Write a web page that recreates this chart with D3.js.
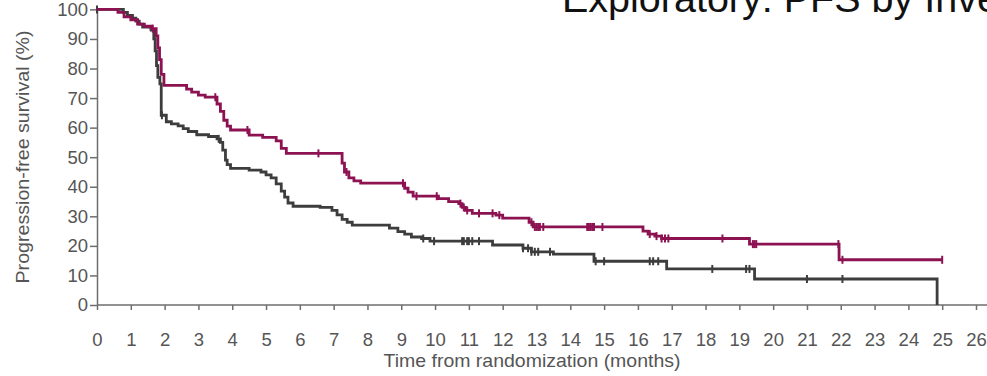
<!DOCTYPE html>
<html>
<head>
<meta charset="utf-8">
<script src="https://cdn.jsdelivr.net/npm/d3@7/dist/d3.min.js"></script>
<style>
  html, body { margin: 0; padding: 0; background: #fff; }
  svg { display: block; font-family: "Liberation Sans", Arial, sans-serif; }
</style>
</head>
<body>
<svg id="chart" width="987" height="376"></svg>
<script>
// ---- Data ----
const titleText = "Exploratory: PFS by Investigator Assessment";
const xAxisTitle = "Time from randomization (months)";
const yAxisTitle = "Progression-free survival (%)";
const xTicks = d3.range(0, 27);
const yTicks = [0, 10, 20, 30, 40, 50, 60, 70, 80, 90, 100];

// Magenta arm: step change points [time (months), survival (%)]
const armAStepTimes  = [0, 0.62, 0.8, 1.0, 1.2, 1.4, 1.6, 1.75, 1.8, 1.85, 1.9, 1.98, 2.65, 2.8, 3.0, 3.2, 3.55, 3.65, 3.75, 3.85, 3.95, 4.5, 4.9, 5.3, 5.45, 5.6, 7.25, 7.32, 7.45, 7.6, 7.8, 9.1, 9.2, 9.35, 10.1, 10.4, 10.7, 10.8, 10.9, 11.1, 11.8, 12.0, 12.78, 12.9, 16.15, 16.3, 16.5, 16.7, 19.3, 21.95, 25.0];
const armAStepValues = [100, 99, 97.5, 96.5, 95, 94.3, 93.5, 91, 87, 83, 78, 74.3, 73, 72, 71, 70.3, 68, 65.5, 62.5, 60.5, 59.2, 57.5, 56.7, 55.5, 53, 51.3, 48, 45, 43, 42, 41.2, 39.5, 38.2, 36.8, 36, 35, 34.3, 33, 32, 31, 30.4, 29.4, 28, 26.4, 25, 24, 23.3, 22.5, 20.6, 15.3, 15.3];
const armACensorTimes = [1.65, 3.5, 4.45, 6.55, 7.38, 9.05, 9.45, 10.05, 10.75, 10.85, 10.95, 11.3, 11.7, 11.9, 12.85, 12.95, 13.0, 13.05, 13.1, 13.2, 14.5, 14.55, 14.6, 14.65, 14.7, 14.95, 16.35, 16.55, 16.7, 16.8, 16.9, 18.5, 19.4, 19.45, 19.5, 21.93, 22.05, 25.0];

// Dark grey arm
const armBStepTimes  = [0, 0.78, 0.9, 1.05, 1.15, 1.25, 1.35, 1.6, 1.68, 1.72, 1.76, 1.8, 1.86, 1.9, 2.05, 2.2, 2.4, 2.55, 2.7, 2.95, 3.3, 3.55, 3.65, 3.72, 3.8, 3.85, 3.95, 4.5, 4.85, 5.0, 5.15, 5.3, 5.45, 5.55, 5.65, 5.8, 6.6, 6.95, 7.1, 7.25, 7.4, 7.55, 8.65, 8.9, 9.1, 9.3, 9.6, 9.85, 11.7, 12.6, 12.85, 13.5, 14.7, 16.85, 19.45, 24.85, 24.85];
const armBStepValues = [100, 99, 98, 97, 96, 95, 94, 93, 90, 86, 81, 77, 74.8, 64.2, 62, 61.3, 60.6, 59.7, 58.7, 57.6, 57, 56.2, 55, 52.4, 49, 47.5, 46.2, 45.6, 45, 44, 43, 41, 38.5, 36.5, 34.5, 33.4, 33, 32, 30.5, 29, 28, 27, 26, 24.8, 24, 23, 22.5, 21.6, 20.3, 19.2, 18, 17.2, 14.8, 12.2, 8.8, 8.8, 0];
const armBCensorTimes = [0, 1.92, 3.6, 9.65, 9.97, 10.8, 10.85, 10.95, 11.0, 11.1, 11.3, 12.6, 12.75, 12.85, 12.95, 13.05, 13.4, 14.75, 15.0, 16.35, 16.45, 16.6, 18.2, 19.2, 19.3, 21.0, 22.05];

// ---- Layout ----
const svg = d3.select("#chart");
const x = d3.scaleLinear().domain([0, 26]).range([97, 976]);
const y = d3.scaleLinear().domain([0, 100]).range([305, 9.4]);

const colorA = "#8c1252";
const colorB = "#3d3d3d";
const axisColor = "#6e6e6e";
const textColor = "#555555";

// Title (runs off the top / right edge, as in the reference)
svg.append("text")
  .attr("x", 562).attr("y", 12)
  .attr("font-size", 39.5)
  .attr("fill", "#111")
  .text(titleText);

// X axis
const gx = svg.append("g").attr("transform", `translate(0,${y(0)})`)
  .call(d3.axisBottom(x).tickValues(xTicks).tickSize(5).tickSizeOuter(0).tickPadding(23).tickFormat(d3.format("d")));
gx.select(".domain").attr("d", `M${x(0)},0H987`);
gx.selectAll("path, line").attr("stroke", axisColor).attr("stroke-width", 1.5);
gx.selectAll("text").attr("font-size", 18.5).attr("fill", textColor).attr("font-family", "Liberation Sans, Arial, sans-serif");

// Y axis
const gy = svg.append("g").attr("transform", `translate(${x(0)},0)`)
  .call(d3.axisLeft(y).tickValues(yTicks).tickSize(7).tickSizeOuter(0).tickPadding(2));
gy.selectAll("path, line").attr("stroke", axisColor).attr("stroke-width", 1.5);
gy.selectAll("text").attr("font-size", 18.5).attr("fill", textColor).attr("font-family", "Liberation Sans, Arial, sans-serif");

// Axis titles
svg.append("text")
  .attr("x", 532).attr("y", 367)
  .attr("text-anchor", "middle")
  .attr("font-size", 18.5).attr("fill", textColor)
  .attr("textLength", 297).attr("lengthAdjust", "spacingAndGlyphs")
  .text(xAxisTitle);
svg.append("text")
  .attr("transform", `translate(29,157) rotate(-90)`)
  .attr("text-anchor", "middle")
  .attr("font-size", 18.5).attr("fill", textColor)
  .attr("textLength", 253).attr("lengthAdjust", "spacingAndGlyphs")
  .text(yAxisTitle);

// Curves
function drawArm(times, values, censors, color) {
  const pts = times.map((t, i) => [t, values[i]]);
  const line = d3.line().x(d => x(d[0])).y(d => y(d[1])).curve(d3.curveStepAfter);
  svg.append("path").datum(pts)
    .attr("fill", "none").attr("stroke", color).attr("stroke-width", 2.8)
    .attr("stroke-linejoin", "miter")
    .attr("d", line);
  const valueAt = t => {
    let v = values[0];
    for (let i = 0; i < times.length; i++) { if (times[i] <= t) v = values[i]; }
    return v;
  };
  svg.append("g").selectAll("line").data(censors).join("line")
    .attr("x1", d => x(d)).attr("x2", d => x(d))
    .attr("y1", d => y(valueAt(d)) - 4).attr("y2", d => y(valueAt(d)) + 4)
    .attr("stroke", color).attr("stroke-width", 2);
}
drawArm(armBStepTimes, armBStepValues, armBCensorTimes, colorB);
drawArm(armAStepTimes, armAStepValues, armACensorTimes, colorA);
</script>
</body>
</html>
